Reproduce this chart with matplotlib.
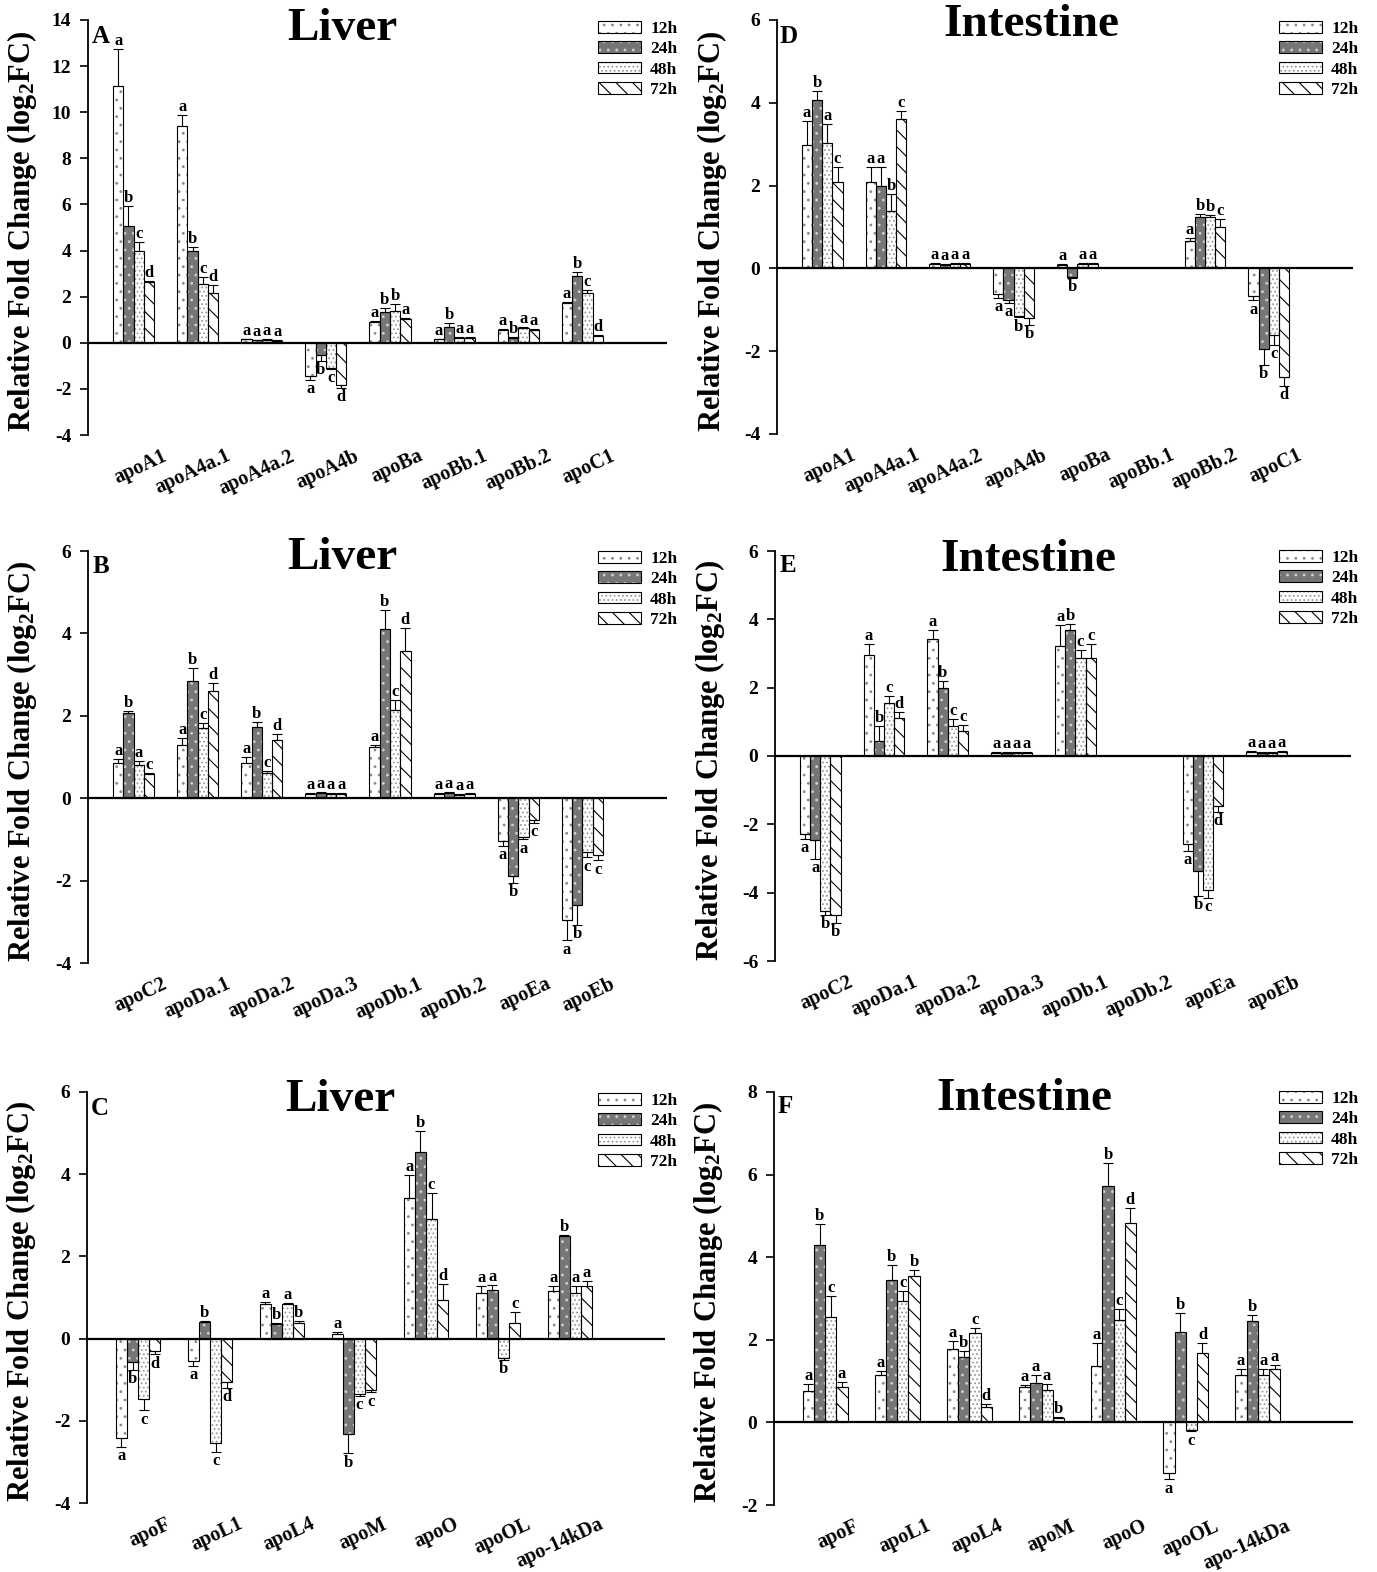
import numpy as np
import matplotlib
matplotlib.use("Agg")
import matplotlib.pyplot as plt
from matplotlib.patches import Patch
from matplotlib.transforms import ScaledTranslation

plt.rcParams['font.family'] = ['Liberation Serif', 'DejaVu Serif']
plt.rcParams['font.weight'] = 'bold'
plt.rcParams['mathtext.fontset'] = 'custom'
plt.rcParams['mathtext.rm'] = 'Liberation Serif:bold'
plt.rcParams['mathtext.bf'] = 'Liberation Serif:bold'
plt.rcParams['mathtext.default'] = 'bf'
plt.rcParams['hatch.linewidth'] = 0.8

W, H = 1377, 1572

times = ["12h", "24h", "48h", "72h"]
NA = np.nan

# ---- Liver A ----
genes_A = ["apoA1", "apoA4a.1", "apoA4a.2", "apoA4b", "apoBa", "apoBb.1", "apoBb.2", "apoC1"]
mean_A = [[11.15, 5.07, 3.96, 2.62],
          [9.39, 3.96, 2.54, 2.14],
          [0.15, 0.10, 0.12, 0.08],
          [-1.45, -0.54, -1.09, -1.84],
          [0.91, 1.35, 1.38, 1.03],
          [0.15, 0.70, 0.20, 0.20],
          [0.55, 0.20, 0.62, 0.55],
          [1.71, 2.91, 2.14, 0.29]]
err_A = [[1.60, 0.85, 0.40, 0.08],
         [0.48, 0.20, 0.30, 0.36],
         [0.03, 0.03, 0.03, 0.03],
         [0.15, 0.25, 0.05, 0.12],
         [0.05, 0.14, 0.29, 0.05],
         [0.03, 0.14, 0.03, 0.03],
         [0.03, 0.03, 0.05, 0.03],
         [0.07, 0.15, 0.15, 0.05]]
sig_A = ["abcd", "abcd", "aaaa", "abcd", "abba", "abaa", "abaa", "abcd"]

# ---- Liver B ----
genes_B = ["apoC2", "apoDa.1", "apoDa.2", "apoDa.3", "apoDb.1", "apoDb.2", "apoEa", "apoEb"]
mean_B = [[0.85, 2.07, 0.80, 0.58],
          [1.30, 2.85, 1.71, 2.61],
          [0.85, 1.73, 0.62, 1.42],
          [0.10, 0.12, 0.10, 0.10],
          [1.24, 4.10, 2.15, 3.57],
          [0.10, 0.12, 0.08, 0.10],
          [-1.05, -1.88, -0.95, -0.53],
          [-2.95, -2.60, -1.31, -1.39]]
err_B = [[0.09, 0.05, 0.10, 0.03],
         [0.15, 0.30, 0.12, 0.18],
         [0.15, 0.12, 0.03, 0.14],
         [0.03, 0.03, 0.03, 0.03],
         [0.06, 0.46, 0.24, 0.55],
         [0.03, 0.03, 0.03, 0.03],
         [0.10, 0.18, 0.05, 0.06],
         [0.50, 0.48, 0.12, 0.12]]
sig_B = ["abac", "abcd", "abcd", "aaaa", "abcd", "aaaa", "abac", "abcc"]

# ---- Liver C ----
genes_C = ["apoF", "apoL1", "apoL4", "apoM", "apoO", "apoOL", "apo-14kDa"]
mean_C = [[-2.41, -0.56, -1.46, -0.30],
          [-0.55, 0.40, -2.55, -1.06],
          [0.84, 0.35, 0.83, 0.39],
          [0.12, -2.31, -1.34, -1.26],
          [3.42, 4.54, 2.90, 0.95],
          [1.11, 1.19, -0.48, 0.39],
          [1.15, 2.49, 1.11, 1.29]]
err_C = [[0.22, 0.20, 0.28, 0.08],
         [0.11, 0.04, 0.21, 0.14],
         [0.04, 0.04, 0.04, 0.04],
         [0.03, 0.48, 0.05, 0.05],
         [0.56, 0.52, 0.65, 0.38],
         [0.18, 0.12, 0.03, 0.25],
         [0.14, 0.03, 0.18, 0.10]]
sig_C = ["abcd", "abcd", "abab", "abcc", "abcd", "aabc", "abaa"]

# ---- Intestine D ----
genes_D = genes_A
mean_D = [[2.99, 4.06, 3.03, 2.08],
          [2.08, 1.98, 1.39, 3.62],
          [0.10, 0.08, 0.10, 0.10],
          [-0.63, -0.77, -1.15, -1.21],
          [0.08, -0.20, 0.10, 0.10],
          [NA, NA, NA, NA],
          [0.66, 1.23, 1.23, 1.01],
          [-0.67, -1.94, -1.62, -2.63]]
err_D = [[0.58, 0.22, 0.46, 0.38],
         [0.36, 0.46, 0.40, 0.18],
         [0.03, 0.03, 0.03, 0.03],
         [0.08, 0.06, 0.03, 0.15],
         [0.03, 0.03, 0.03, 0.03],
         [NA, NA, NA, NA],
         [0.08, 0.08, 0.06, 0.19],
         [0.10, 0.39, 0.22, 0.20]]
sig_D = ["abac", "aabc", "aaaa", "aabb", "abaa", "    ", "abbc", "abcd"]

# ---- Intestine E ----
genes_E = genes_B
mean_E = [[-2.27, -2.46, -4.54, -4.64],
          [2.97, 0.43, 1.55, 1.11],
          [3.43, 2.00, 0.87, 0.74],
          [0.10, 0.08, 0.10, 0.10],
          [3.21, 3.69, 2.88, 2.88],
          [NA, NA, NA, NA],
          [-2.59, -3.38, -3.91, -1.47],
          [0.12, 0.08, 0.10, 0.12]]
err_E = [[0.15, 0.54, 0.10, 0.24],
         [0.30, 0.44, 0.22, 0.17],
         [0.26, 0.19, 0.22, 0.18],
         [0.03, 0.03, 0.03, 0.03],
         [0.61, 0.16, 0.21, 0.39],
         [NA, NA, NA, NA],
         [0.19, 0.72, 0.24, 0.17],
         [0.03, 0.03, 0.03, 0.03]]
sig_E = ["aabb", "abcd", "abcc", "aaaa", "abcc", "    ", "abcd", "aaaa"]

# ---- Intestine F ----
genes_F = genes_C
mean_F = [[0.76, 4.29, 2.54, 0.86],
          [1.14, 3.45, 2.94, 3.54],
          [1.78, 1.58, 2.17, 0.38],
          [0.85, 0.96, 0.78, 0.10],
          [1.36, 5.73, 2.48, 4.82],
          [-1.23, 2.18, -0.19, 1.68],
          [1.14, 2.45, 1.14, 1.29]]
err_F = [[0.18, 0.52, 0.52, 0.12],
         [0.11, 0.36, 0.24, 0.15],
         [0.20, 0.16, 0.12, 0.06],
         [0.06, 0.18, 0.15, 0.03],
         [0.56, 0.56, 0.26, 0.36],
         [0.15, 0.46, 0.03, 0.24],
         [0.15, 0.15, 0.16, 0.11]]
sig_F = ["abca", "abcb", "abcd", "aaab", "abcd", "abcd", "abaa"]

# bar styles per time point
FACE = ["white", "#767676", "white", "white"]
HATCHC = ["#8a8a8a", "#d0d0d0", "#9a9a9a", "black"]
HATCH = ["..", "..", "....", "\\\\"]


def px(x, y):
    return x / W, 1 - y / H


def rect(x0, y0, x1, y1):
    return [x0 / W, 1 - y1 / H, (x1 - x0) / W, (y1 - y0) / H]


fig = plt.figure(figsize=(W / 100, H / 100), dpi=100)


def draw_panel(r, genes, mean, err, sig, ylim, yticks, width):
    ax = fig.add_axes(r)
    mean = np.array(mean, float)
    err = np.array(err, float)
    x = np.arange(len(genes))
    for j in range(4):
        xs = x + (j - 1.5) * width
        vals = mean[:, j]
        e = err[:, j]
        ax.bar(xs, vals, width, color=FACE[j], edgecolor=HATCHC[j],
               hatch=HATCH[j], linewidth=0, zorder=2)
        ax.bar(xs, vals, width, fill=False, edgecolor='black',
               linewidth=0.8, zorder=3)
        up = np.where(vals >= 0, e, 0)
        dn = np.where(vals < 0, e, 0)
        ax.errorbar(xs, vals, yerr=[dn, up], fmt='none', ecolor='black',
                    elinewidth=0.8, capsize=3.5, capthick=0.8, zorder=4)
        for xi, v, ei, s in zip(xs, vals, e, [g[j] for g in sig]):
            if np.isnan(v) or s == ' ':
                continue
            if v >= 0:
                ax.annotate(s, (xi, v + ei), xytext=(0, 0), textcoords='offset points',
                            ha='center', va='bottom', fontsize=12, fontweight='bold')
            else:
                ax.annotate(s, (xi, v - ei), xytext=(0, -1), textcoords='offset points',
                            ha='center', va='top', fontsize=12, fontweight='bold')
    ax.axhline(0, color='black', lw=1.6, zorder=5)
    ax.set_xlim(-0.71, len(genes) + 0.32)
    ax.set_ylim(*ylim)
    ax.set_yticks(yticks)
    ax.set_yticklabels([str(t) for t in yticks])
    ax.tick_params(axis='y', direction='out', length=6, width=1.2, pad=6, labelsize=14)
    ax.set_xticks(x)
    ax.set_xticklabels(genes, rotation=25, ha='right', va='top',
                       rotation_mode='anchor', fontsize=14.5)
    ax.tick_params(axis='x', length=0, pad=8)
    off = ScaledTranslation(20 / 72, 0, fig.dpi_scale_trans)
    for lab in ax.get_xticklabels():
        lab.set_transform(lab.get_transform() + off)
    for s in ['top', 'right', 'bottom']:
        ax.spines[s].set_visible(False)
    ax.spines['left'].set_linewidth(1.3)
    ax.set_ylabel(r'Relative Fold Change (log$_2$FC)', fontsize=22, fontweight='bold')
    ax.yaxis.set_label_coords(-0.084, 0.49)
    handles = [(Patch(facecolor=FACE[j], edgecolor=HATCHC[j], hatch=HATCH[j], linewidth=0),
                Patch(fill=False, edgecolor='black', linewidth=0.8)) for j in range(4)]
    return ax, handles


panels = [
    (rect(88, 20, 667, 435), genes_A, mean_A, err_A, sig_A, (-4, 14), list(range(-4, 15, 2)), 0.16,
     "A", "Liver", (92, 43), (342, 29)),
    (rect(777, 20, 1353, 434), genes_D, mean_D, err_D, sig_D, (-4, 6), list(range(-4, 7, 2)), 0.16,
     "D", "Intestine", (780, 43), (1031, 25)),
    (rect(88, 551, 667, 963), genes_B, mean_B, err_B, sig_B, (-4, 6), list(range(-4, 7, 2)), 0.16,
     "B", "Liver", (93, 573), (342, 558)),
    (rect(775, 551, 1351, 961), genes_E, mean_E, err_E, sig_E, (-6, 6), list(range(-6, 7, 2)), 0.16,
     "E", "Intestine", (780, 572), (1028, 560)),
    (rect(87, 1092, 665, 1503), genes_C, mean_C, err_C, sig_C, (-4, 6), list(range(-4, 7, 2)), 0.155,
     "C", "Liver", (91, 1115), (340, 1100)),
    (rect(774, 1092, 1353, 1505), genes_F, mean_F, err_F, sig_F, (-2, 8), list(range(-2, 9, 2)), 0.155,
     "F", "Intestine", (778, 1113), (1024, 1099)),
]

for (r, genes, mean, err, sig, ylim, yt, w, letter, title, lpos, tpos) in panels:
    ax, handles = draw_panel(r, genes, mean, err, sig, ylim, yt, w)
    fig.text(*px(*lpos), letter, fontsize=18, fontweight='bold', ha='left', va='baseline')
    fig.text(*px(*tpos), title, fontsize=34, fontweight='bold', ha='center', va='center')
    lx = 598 if r[0] < 0.5 else 1279
    ly = lpos[1] - 22
    ax.legend(handles, times, loc='upper left', bbox_to_anchor=px(lx, ly),
              bbox_transform=fig.transFigure, frameon=False, fontsize=12.5,
              handlelength=2.5, handleheight=0.65, labelspacing=0.25,
              handletextpad=0.5, borderpad=0, borderaxespad=0)

fig.savefig("out.png", dpi=100)
